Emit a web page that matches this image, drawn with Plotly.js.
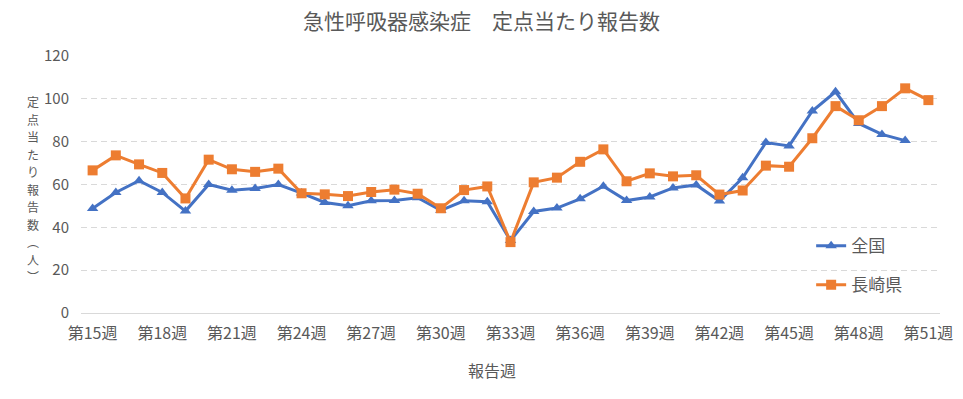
<!DOCTYPE html>
<html>
<head>
<meta charset="utf-8">
<script src="https://cdn.plot.ly/plotly-3.0.1.min.js"></script>
<style>html,body{margin:0;padding:0;background:#fff;}#chart{width:963px;height:399px;}</style>
</head>
<body>
<div id="chart"></div>
<script>
const weeks = [15,16,17,18,19,20,21,22,23,24,25,26,27,28,29,30,31,32,33,34,35,36,37,38,39,40,41,42,43,44,45,46,47,48,49,50,51];
const categories = weeks.map(w => '第' + w + '週');
const tickWeeks = [15,18,21,24,27,30,33,36,39,42,45,48,51];
const tickLabels = tickWeeks.map(w => '第' + w + '週');

const national = [48.8,56.3,61.8,56.3,47.6,60.0,57.3,58.1,60.0,56.0,51.6,50.1,52.4,52.5,53.8,47.9,52.4,52.0,33.8,47.4,49.0,53.3,59.2,52.5,54.2,58.4,59.8,52.3,63.1,79.6,78.0,94.3,103.3,88.5,83.4,80.5,null];
const nagasaki = [66.6,73.6,69.4,65.4,53.5,71.6,67.1,65.9,67.4,55.9,55.4,54.6,56.5,57.6,55.7,48.9,57.4,59.1,33.1,61.0,63.2,70.6,76.4,61.5,65.2,63.8,64.3,55.3,57.2,68.8,68.3,81.6,96.6,90.0,96.6,104.9,99.4];

const seriesNames = ['全国', '長崎県'];
const titleText = '急性呼吸器感染症　定点当たり報告数';
const yTitleChars = ['定','点','当','た','り','報','告','数','︵','人','︶'];
const xTitleText = '報告週';

const FONT = '"Noto Sans CJK JP", "Noto Sans", sans-serif';
const GREY = '#595959';
const W = 963, H = 399;
const M = {l: 81, r: 23, t: 56, b: 86};
const plotH = H - M.t - M.b;

const traces = [
  {
    x: categories, y: national, name: seriesNames[0], type: 'scatter', mode: 'lines+markers',
    legendgroup: 'a',
    line: {color: '#4472C4', width: 3},
    marker: {symbol: 'triangle-up', size: 10, color: '#4472C4'},
    connectgaps: false
  },
  {
    x: categories, y: nagasaki, name: seriesNames[1], type: 'scatter', mode: 'lines+markers',
    legendgroup: 'b',
    line: {color: '#ED7D31', width: 3},
    marker: {symbol: 'square', size: 10, color: '#ED7D31'}
  }
];

// vertical y-axis title, one character per annotation
const yTitleTop = 93, yPitch = 17.5;
const annotations = yTitleChars.map((ch, i) => ({
  text: ch, xref: 'paper', yref: 'paper',
  x: (33 - M.l) / (W - M.l - M.r),
  y: (H - M.b - (yTitleTop + yPitch * i + yPitch / 2)) / plotH,
  xanchor: 'center', yanchor: 'middle', showarrow: false,
  font: {family: FONT, size: 12, color: GREY}
}));
annotations.push({
  text: xTitleText, xref: 'paper', yref: 'paper',
  x: (492 - M.l) / (W - M.l - M.r), y: (H - M.b - 370) / plotH,
  xanchor: 'center', yanchor: 'middle', showarrow: false,
  font: {family: FONT, size: 16, color: GREY}
});

const layout = {
  width: W, height: H,
  paper_bgcolor: '#fff', plot_bgcolor: '#fff',
  margin: M,
  font: {family: FONT, color: GREY, size: 16},
  title: {text: titleText, x: 0.5, xref: 'container', xanchor: 'center', y: 0.945, yanchor: 'middle',
          font: {family: FONT, size: 21, color: GREY}},
  xaxis: {
    type: 'category', categoryorder: 'array', categoryarray: categories,
    range: [-0.5, categories.length - 0.5],
    tickmode: 'array', tickvals: tickLabels, ticktext: tickLabels,
    showgrid: false, showline: true, linecolor: '#D9D9D9', linewidth: 1,
    ticks: '', ticklabelstandoff: 6, tickfont: {family: FONT, size: 16, color: GREY},
    zeroline: false, fixedrange: true
  },
  yaxis: {
    range: [0, 120], tickmode: 'linear', tick0: 0, dtick: 20,
    showgrid: true, gridcolor: '#D9D9D9', griddash: '6px,4px', gridwidth: 1,
    zeroline: false, showline: false, ticks: '',
    ticklabelstandoff: 11,
    tickfont: {family: FONT, size: 15, color: GREY},
    fixedrange: true
  },
  showlegend: true,
  legend: {
    x: 0.85, y: 0.33, xanchor: 'left', yanchor: 'top',
    traceorder: 'grouped', tracegroupgap: 14,
    font: {family: FONT, size: 17, color: GREY},
    bgcolor: 'rgba(0,0,0,0)', itemwidth: 30
  },
  annotations: annotations
};

Plotly.newPlot('chart', traces, layout, {displayModeBar: false, staticPlot: true});
</script>
</body>
</html>
